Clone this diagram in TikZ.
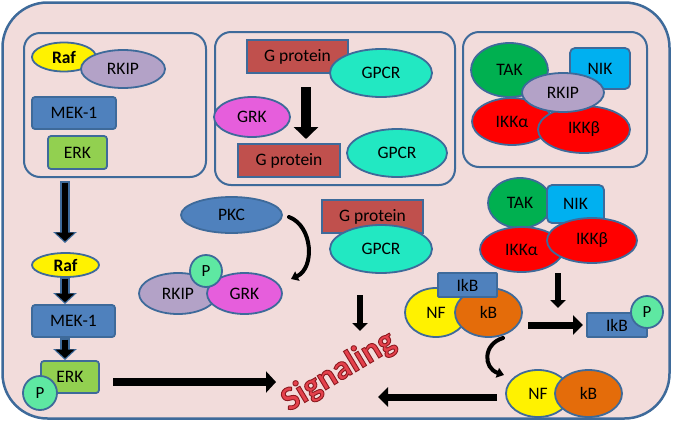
\documentclass[tikz,border=0pt]{standalone}
\usepackage{fontspec}
\setmainfont{Carlito}
\usetikzlibrary{shapes.geometric,arrows.meta}
\definecolor{bg}{HTML}{F2DCDB}
\definecolor{outl}{HTML}{3E6A9A}
\definecolor{lav}{HTML}{B3A2C7}
\definecolor{steel}{HTML}{4F81BD}
\definecolor{erkgreen}{HTML}{92D050}
\definecolor{gpred}{HTML}{C0504D}
\definecolor{aqua}{HTML}{22E8C2}
\definecolor{mag}{HTML}{E65EDC}
\definecolor{takgreen}{HTML}{00B050}
\definecolor{nikblue}{HTML}{00B0F0}
\definecolor{kborange}{HTML}{E46C0A}
\definecolor{pmint}{HTML}{5EE8A2}
\definecolor{sigred}{HTML}{E4414C}
\newcommand\myfs{\fontsize{17.5}{20}\selectfont}
\newcommand\outlinedtext[1]{\special{pdf:literal direct 2 Tr 0.9 w 0.55 0.1 0.12 RG}#1\special{pdf:literal direct 0 Tr}}
\begin{document}
\begin{tikzpicture}[x=1pt,y=-1pt,
  ol/.style={draw=outl,line width=1.8pt},
  inbox/.style={draw=outl,line width=2pt,rounded corners=16pt,inner sep=0pt},
  ell/.style={ellipse,ol,inner sep=0pt,font=\myfs},
  rbox/.style={rectangle,ol,inner sep=0pt,rounded corners=3pt,font=\myfs},
  sbox/.style={rectangle,ol,inner sep=0pt,font=\myfs},
  pcirc/.style={circle,ol,fill=pmint,inner sep=0pt,minimum size=33pt,font=\fontsize{17}{18}\selectfont},
  barrowout/.style={draw=outl,line width=10pt,-{Triangle[length=11pt,width=23pt]}},
  barrowin/.style={draw=black,line width=6.5pt,shorten <=1.5pt,shorten >=1.8pt,-{Triangle[length=8.5pt,width=18pt]}},
]
\useasboundingbox (0,0) rectangle (673,421);
% outer cell
\node[draw=outl,line width=2.5pt,fill=bg,rounded corners=45pt,inner sep=0pt,
      minimum width=667pt,minimum height=416pt] (cell) at (336,210.5) {};
% inner boxes
\node[inbox,minimum width=182pt,minimum height=144pt] (box1) at (115,105) {};
\node[inbox,minimum width=240pt,minimum height=153pt] (box2) at (335,108.5) {};
\node[inbox,minimum width=184pt,minimum height=135pt] (box3) at (555,99.5) {};

% box 1
\node[ell,fill=yellow,minimum width=64pt,minimum height=29pt] (raf1) at (64,57) {\bfseries Raf};
\node[ell,fill=lav,minimum width=84pt,minimum height=38pt] (rkip1) at (123,69) {RKIP};
\node[rbox,fill=steel,minimum width=84pt,minimum height=32pt] (mek1) at (74,113) {MEK-1};
\node[rbox,fill=erkgreen,minimum width=59pt,minimum height=33pt] (erk1) at (77.5,152.5) {ERK};

% box 2
\node[sbox,fill=gpred,minimum width=101pt,minimum height=33pt] (gp1) at (297.5,56.5) {G protein};
\node[ell,fill=aqua,minimum width=102pt,minimum height=48pt] (gpcr1) at (381,73) {GPCR};
\node[ell,fill=mag,minimum width=76pt,minimum height=40pt] (grk1) at (252,117) {GRK};
\node[sbox,fill=gpred,minimum width=102pt,minimum height=33pt] (gp2) at (289,160.5) {G protein};
\node[ell,fill=aqua,minimum width=100pt,minimum height=48pt] (gpcr2) at (397,153) {GPCR};
\coordinate (a2s) at (306,87);
\coordinate (a2e) at (306,139);
\draw[line width=10pt,-{Triangle[length=12pt,width=24pt]}] (a2s) -- (a2e);

% box 3
\node[ell,fill=takgreen,minimum width=77pt,minimum height=54pt] (tak1) at (509.5,70) {TAK};
\node[rbox,fill=nikblue,rounded corners=5pt,minimum width=60pt,minimum height=41pt] (nik1) at (600,68.5) {NIK};
\node[ell,fill=red,minimum width=80pt,minimum height=47pt] (ikka1) at (512,121.5) {IKKα};
\node[ell,fill=red,minimum width=92pt,minimum height=47pt] (ikkb1) at (584,129.5) {IKKβ};
\node[ell,fill=lav,minimum width=82pt,minimum height=39pt] (rkip3) at (563,92.5) {RKIP};

% lower left cascade
\node[ell,fill=yellow,minimum width=67pt,minimum height=24pt] (raf2) at (65.5,265) {\bfseries Raf};
\node[rbox,fill=steel,minimum width=83pt,minimum height=32pt] (mek2) at (73.5,321) {MEK-1};
\node[rbox,fill=erkgreen,minimum width=58pt,minimum height=32pt] (erk2) at (70,377) {ERK};
\node[pcirc,minimum size=34pt] (p1) at (40,393) {P};
\coordinate (b1s) at (65,181);
\coordinate (b1e) at (65,243);
\coordinate (b2s) at (65,277);
\coordinate (b2e) at (65,304);
\coordinate (b3s) at (65,338);
\coordinate (b3e) at (65,360);
\foreach \s/\e in {b1s/b1e,b2s/b2e,b3s/b3e}{
  \draw[barrowout] (\s) -- (\e);
  \draw[barrowin] (\s) -- (\e);
}
\coordinate (erkout) at (113,382);
\coordinate (sigin) at (276,382);
\draw[line width=8pt,-{Triangle[length=10pt,width=21pt]}] (erkout) -- (sigin);

% PKC / RKIP-GRK
\node[ell,fill=steel,minimum width=101pt,minimum height=36pt] (pkc) at (231.5,215) {PKC};
\node[ell,fill=lav,minimum width=78pt,minimum height=41pt] (rkip2) at (178,293.5) {RKIP\hspace{6pt}};
\node[ell,fill=mag,minimum width=75pt,minimum height=41pt] (grk2) at (244.5,293.5) {GRK};
\node[pcirc,minimum size=32pt] (p2) at (206,271) {P};
\coordinate (c1s) at (289,217);
\coordinate (c1e) at (291,279);
\draw[line width=4pt,line cap=round,-{Triangle[length=7pt,width=10pt]}] (c1s) .. controls (313,226) and (315,268) .. (c1e);

% middle G protein / GPCR
\node[sbox,fill=gpred,minimum width=101pt,minimum height=33pt] (gp3) at (372.5,216.5) {G protein};
\node[ell,fill=aqua,minimum width=102pt,minimum height=48pt] (gpcr3) at (381,249) {GPCR};
\coordinate (m1s) at (360,295);
\coordinate (m1e) at (360,331);
\draw[line width=6pt,-{Triangle[length=8pt,width=15pt]}] (m1s) -- (m1e);

% right side complex
\node[ell,fill=takgreen,minimum width=64pt,minimum height=50pt] (tak2) at (520,203) {TAK\hspace{8pt}};
\node[rbox,fill=nikblue,rounded corners=5pt,minimum width=57pt,minimum height=38pt] (nik2) at (575.5,204) {NIK};
\node[ell,fill=red,minimum width=83pt,minimum height=45pt] (ikka2) at (521.5,249.5) {IKKα};
\node[ell,fill=red,minimum width=90pt,minimum height=45pt] (ikkb2) at (592,240.5) {IKKβ};
\coordinate (r1s) at (558,273);
\coordinate (r1e) at (558,308);
\draw[line width=6pt,-{Triangle[length=8pt,width=15pt]}] (r1s) -- (r1e);

\node[ell,fill=yellow,minimum width=62pt,minimum height=49pt] (nf1) at (436,312.5) {NF};
\node[ell,fill=kborange,minimum width=67pt,minimum height=49pt] (kb1) at (488.5,312.5) {kB};
\node[rbox,fill=steel,rounded corners=1pt,minimum width=59pt,minimum height=24pt] (ikb1) at (467.5,285) {IkB};
\coordinate (r2s) at (528,325);
\coordinate (r2e) at (583,325);
\draw[line width=7pt,-{Triangle[length=10pt,width=19pt]}] (r2s) -- (r2e);
\node[rbox,fill=steel,rounded corners=1pt,minimum width=60pt,minimum height=24pt] (ikb2) at (617,325) {IkB};
\node[pcirc,minimum size=32pt] (p3) at (647,312) {P};

\coordinate (c2s) at (503,338);
\coordinate (c2e) at (504,375);
\draw[line width=4pt,line cap=round,-{Triangle[length=7pt,width=10pt]}] (c2s) .. controls (483,344) and (483,368) .. (c2e);

\node[ell,fill=yellow,minimum width=64pt,minimum height=47pt] (nf2) at (538,393.5) {NF\hspace{8pt}};
\node[ell,fill=kborange,minimum width=67pt,minimum height=47pt] (kb2) at (588.5,393.5) {kB};
\coordinate (r3s) at (497,397);
\coordinate (r3e) at (378,397);
\draw[line width=7pt,-{Triangle[length=10pt,width=19pt]}] (r3s) -- (r3e);

% Signaling
\node[rotate=31,anchor=base west,inner sep=0pt,text=sigred,font=\fontsize{34}{36}\selectfont\bfseries] (sig) at (289,412) {\outlinedtext{Signaling}};
\end{tikzpicture}
\end{document}
